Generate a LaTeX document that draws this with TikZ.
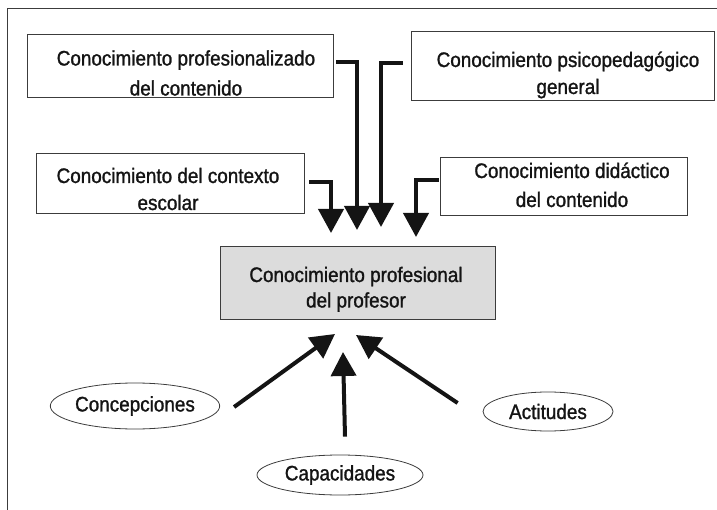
\documentclass[tikz,border=0pt]{standalone}
\usepackage{fontspec}
\setmainfont[FakeStretch=0.9,FakeBold=1.2]{Liberation Sans}
\usetikzlibrary{arrows.meta,shapes.geometric,fit}
\definecolor{boxgray}{RGB}{220,220,220}
\definecolor{edgegray}{RGB}{60,60,60}
\definecolor{inkblack}{RGB}{20,20,20}
\begin{document}
\begin{tikzpicture}[x=1pt,y=-1pt,
  box/.style={draw=edgegray, line width=0.9pt, inner sep=0pt},
  txt/.style={inner sep=0pt, align=center, text=inkblack, font=\fontsize{21}{27}\selectfont, anchor=base},
  oval/.style={ellipse, draw=edgegray, line width=0.8pt, inner sep=0pt, text=inkblack, font=\fontsize{21}{27}\selectfont},
  arr/.style={draw=inkblack, line width=4pt, -{Triangle[length=24pt,width=25pt]}}]
\useasboundingbox (0,0) rectangle (717,510);
% frame
\draw[edgegray, line width=1pt] (7,510) -- (7,9) -- (717,9);
% boxes
\node[box, fit={(27,34) (333,97)}] (b1) {};
\node[box, fit={(411,31) (714,100)}] (b2) {};
\node[box, fit={(36,153) (304,213)}] (b3) {};
\node[box, fit={(440,157) (687,215)}] (b4) {};
\node[box, fill=boxgray, fit={(220,246) (495,319)}] (c) {};
% texts (anchor = baseline of the last line)
\node[txt] (t1) at (186,95.5) {Conocimiento profesionalizado\\[3pt]del contenido};
\node[txt] (t2) at (568,94) {Conocimiento psicopedagógico\\general};
\node[txt] (t3) at (168,210) {Conocimiento del contexto\\escolar};
\node[txt] (t4) at (572,207) {Conocimiento didáctico\\[2pt]del contenido};
\node[txt] (t5) at (356,307.5) {Conocimiento profesional\\[-1.5pt]del profesor};
% ellipses
\node[oval, minimum width=156pt, minimum height=46pt] (e1) at (135,406) {Concepciones};
\node[oval, minimum width=166pt, minimum height=40pt] (e2) at (340,475) {Capacidades};
\node[oval, minimum width=130pt, minimum height=39pt] (e3) at (548,411.5) {Actitudes};
% arrow tips (free ends)
\coordinate (p1) at (357,230);
\coordinate (p2) at (381,227);
\coordinate (p3) at (331,233);
\coordinate (p4) at (416,237);
\coordinate (q1) at (335,334);
\coordinate (q2) at (343,352);
\coordinate (q3) at (356,335);
% top connectors
\draw[arr] ([xshift=3pt,yshift=3.5pt]b1.east) -| (p1);
\draw[arr] ([xshift=-8pt,yshift=2.5pt]b2.west) -| (p2);
\draw[arr] ([xshift=5pt,yshift=1pt]b3.east) -| (p3);
\draw[arr] ([xshift=-1pt,yshift=6pt]b4.west) -| (p4);
% bottom connectors
\draw[arr] ([xshift=14pt,yshift=-1pt]e1.east) -- (q1);
\draw[arr] ([xshift=5pt,yshift=18pt]e2.north) -- (q2);
\draw[arr] ([xshift=-25pt,yshift=8.5pt]e3.west) -- (q3);
\end{tikzpicture}
\end{document}
